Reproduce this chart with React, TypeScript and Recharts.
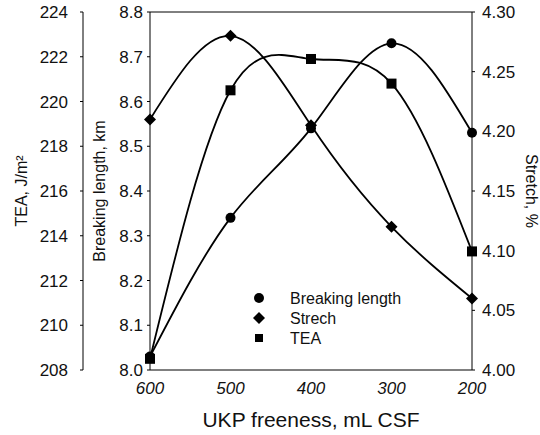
import { LineChart, Line, XAxis, YAxis, ReferenceLine } from 'recharts';

const freeness = [600, 500, 400, 300, 200];
const breakingLength = [8.03, 8.34, 8.54, 8.73, 8.53];
const stretch = [4.21, 4.28, 4.205, 4.12, 4.06];
const tea = [208.5, 220.5, 221.9, 220.8, 213.3];

const blTicks = [8.0, 8.1, 8.2, 8.3, 8.4, 8.5, 8.6, 8.7, 8.8];
const teaTicks = [208, 210, 212, 214, 216, 218, 220, 222, 224];
const stTicks = [4.0, 4.05, 4.1, 4.15, 4.2, 4.25, 4.3];

const data = freeness.map((f, i) => ({
  f,
  bl: breakingLength[i],
  st: stretch[i],
  tea: tea[i],
}));

const font = '"Liberation Sans", Arial, sans-serif';
const tickStyle = { fontSize: 17, fill: '#111', fontFamily: font };

const Circle = (p: any) => <circle key={p.index} cx={p.cx} cy={p.cy} r={5} fill="#000" />;
const Diamond = (p: any) => (
  <path key={p.index} d={`M${p.cx},${p.cy - 6}L${p.cx + 6},${p.cy}L${p.cx},${p.cy + 6}L${p.cx - 6},${p.cy}Z`} fill="#000" />
);
const Square = (p: any) => <rect key={p.index} x={p.cx - 5} y={p.cy - 5} width={10} height={10} fill="#000" />;

const legendItems = [
  { name: 'Breaking length', shape: 'circle' },
  { name: 'Strech', shape: 'diamond' },
  { name: 'TEA', shape: 'square' },
];

// legend drawn as an overlay so it doesn't eat into the plot area
function LegendBox() {
  return (
    <svg width={200} height={64} style={{ position: 'absolute', left: 250, top: 288 }}>
      {legendItems.map((it, i) => {
        const y = 10 + i * 20;
        return (
          <g key={it.name}>
            {it.shape === 'circle' && <circle cx={9} cy={y} r={5} fill="#000" />}
            {it.shape === 'diamond' && <path d={`M9,${y - 6}L15,${y}L9,${y + 6}L3,${y}Z`} fill="#000" />}
            {it.shape === 'square' && <rect x={5} y={y - 4} width={8} height={8} fill="#000" />}
            <text x={40} y={y + 6} fontSize={16} fill="#111" fontFamily={font}>{it.name}</text>
          </g>
        );
      })}
    </svg>
  );
}

export default function App() {
  return (
    <div style={{ position: 'absolute', left: 0, top: 0, width: 540, height: 435, background: '#fff' }}>
      <LineChart width={540} height={435} data={data} margin={{ top: 12, right: 0, bottom: 0, left: 0 }}>
        <XAxis
          dataKey="f"
          type="number"
          domain={[200, 600]}
          ticks={freeness}
          reversed
          height={65}
          tick={{ ...tickStyle, fontStyle: 'italic' }}
          tickSize={0}
          tickMargin={12}
          stroke="#000"
          label={{ value: 'UKP freeness, mL CSF', position: 'insideBottom', offset: 8, style: { fontSize: 21, fill: '#111', fontFamily: font } }}
        />
        <YAxis
          yAxisId="bl"
          orientation="left"
          domain={[8, 8.8]}
          ticks={blTicks}
          tickFormatter={(v: number) => v.toFixed(1)}
          width={67}
          tick={tickStyle}
          tickSize={3}
          tickMargin={4}
          stroke="#000"
          label={{ value: 'Breaking length, km', angle: -90, position: 'insideLeft', offset: 16, style: { textAnchor: 'middle', fontSize: 16, fill: '#111', fontFamily: font } }}
        />
        <YAxis
          yAxisId="tea"
          orientation="left"
          domain={[208, 224]}
          ticks={teaTicks}
          width={83}
          tick={tickStyle}
          tickSize={3}
          tickMargin={12}
          stroke="#000"
          label={{ value: 'TEA, J/m²', angle: -90, position: 'insideLeft', offset: 21, style: { textAnchor: 'middle', fontSize: 16, fill: '#111', fontFamily: font } }}
        />
        <YAxis
          yAxisId="st"
          orientation="right"
          domain={[4, 4.3]}
          ticks={stTicks}
          tickFormatter={(v: number) => v.toFixed(2)}
          width={68}
          tick={tickStyle}
          tickSize={3}
          tickMargin={7}
          stroke="#000"
          label={{ value: 'Stretch, %', angle: 90, position: 'insideRight', offset: 8, style: { textAnchor: 'middle', fontSize: 16, fill: '#111', fontFamily: font } }}
        />
        <ReferenceLine yAxisId="bl" y={8.8} stroke="#000" />
        <Line yAxisId="bl" dataKey="bl" type="natural" stroke="#000" strokeWidth={1.8} dot={Circle} isAnimationActive={false} />
        <Line yAxisId="st" dataKey="st" type="natural" stroke="#000" strokeWidth={1.8} dot={Diamond} isAnimationActive={false} />
        <Line yAxisId="tea" dataKey="tea" type="natural" stroke="#000" strokeWidth={1.8} dot={Square} isAnimationActive={false} />
      </LineChart>
      <LegendBox />
    </div>
  );
}
